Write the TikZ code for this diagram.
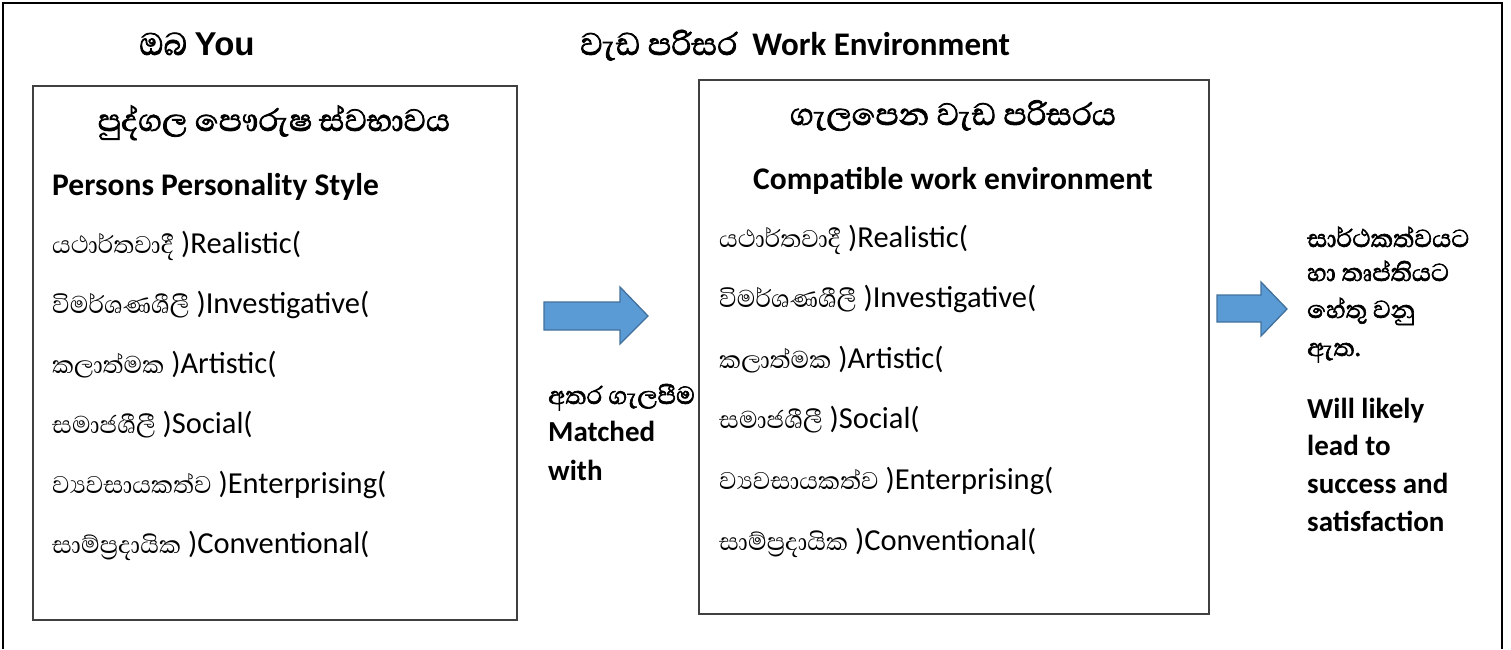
\documentclass[tikz,border=0pt]{standalone}
\usepackage{fontspec}
\setmainfont{Carlito}
\newfontfamily\sn[Script=Sinhala,AutoFakeBold=2]{Abhaya Libre}
\newfontfamily\arl{Liberation Sans}
\newcommand{\snr}{\sn\fontsize{31}{37}\selectfont}
\definecolor{boxline}{HTML}{404040}
\definecolor{arrfill}{HTML}{5B9BD5}
\definecolor{arrline}{HTML}{41719C}
\begin{document}
\begin{tikzpicture}[x=1pt,y=-1pt,
  frame/.style={draw=black,line width=2.8pt},
  panel/.style={draw=boxline,line width=1.6pt,anchor=north west,inner sep=0pt},
  blockarrow/.style={draw=arrline,fill=arrfill,line width=1.3pt,line join=miter},
  txt/.style={inner sep=0pt,anchor=base west,font=\fontsize{30.5}{36}\selectfont},
  btxt/.style={inner sep=0pt,anchor=base west,font=\fontsize{29}{35}\selectfont\bfseries},
  shead/.style={inner sep=0pt,anchor=base,font=\sn\fontsize{39.5}{46}\selectfont\bfseries},
  bhead/.style={inner sep=0pt,font=\fontsize{31.5}{37}\selectfont\bfseries},
  hdr/.style={inner sep=0pt,font=\fontsize{33}{40}\selectfont\bfseries},
  sb/.style={inner sep=0pt,anchor=base west,font=\sn\fontsize{31.5}{37}\selectfont\bfseries}]
\useasboundingbox (0,0) rectangle (1511,649);
\fill[white] (0,0) rectangle (1511,649);
% outer frame
\draw[frame] (3,649) -- (3,3) -- (1502,3) -- (1502,649);
% headers
\node[hdr,anchor=base] (you) at (197,55) {{\sn\fontsize{40}{46}\selectfont ඔබ} {\arl You}};
\node[hdr,anchor=base west] (work) at (580,55) {{\sn\fontsize{40}{46}\selectfont වැඩ පරිසර}\ \ Work Environment};
% panels
\node[panel,minimum width=484pt,minimum height=534pt] (lbox) at (32,85) {};
\node[panel,minimum width=510pt,minimum height=534pt] (rbox) at (698,79) {};
% left panel text
\node[shead] (lh) at (274,131) {පුද්ගල පෞරුෂ ස්වභාවය};
\node[bhead,anchor=base west] (lp) at (52,195) {Persons Personality Style};
\node[txt] (l1) at (52,253) {{\snr යථාර්තවාදී} )Realistic(};
\node[txt] (l2) at (52,313) {{\snr විමර්ශණශීලී} )Investigative(};
\node[txt] (l3) at (52,373) {{\snr කලාත්මක} )Artistic(};
\node[txt] (l4) at (52,433) {{\snr සමාජශීලී} )Social(};
\node[txt] (l5) at (52,493) {{\snr ව්‍යවසායකත්ව} )Enterprising(};
\node[txt] (l6) at (52,553) {{\snr සාම්ප්‍රදායික} )Conventional(};
% right panel text
\node[shead] (rh) at (953,125) {ගැලපෙන වැඩ පරිසරය};
\node[bhead,anchor=base] (rc) at (953,189) {Compatible work environment};
\node[txt] (r1) at (719,247) {{\snr යථාර්තවාදී} )Realistic(};
\node[txt] (r2) at (719,307) {{\snr විමර්ශණශීලී} )Investigative(};
\node[txt] (r3) at (719,368) {{\snr කලාත්මක} )Artistic(};
\node[txt] (r4) at (719,428) {{\snr සමාජශීලී} )Social(};
\node[txt] (r5) at (719,489) {{\snr ව්‍යවසායකත්ව} )Enterprising(};
\node[txt] (r6) at (719,550) {{\snr සාම්ප්‍රදායික} )Conventional(};
% arrows
\draw[blockarrow] (544,302) -- (620,302) -- (620,287) -- (648,316) -- (620,344) -- (620,330) -- (544,330) -- cycle;
\draw[blockarrow] (1217,295) -- (1261,295) -- (1261,282) -- (1287,309) -- (1261,336) -- (1261,322) -- (1217,322) -- cycle;
% middle text
\node[sb] (m1) at (548,404) {අතර ගැලපීම};
\node[btxt] (m2) at (548,441) {Matched};
\node[btxt] (m3) at (548,480) {with};
% right text
\node[sb] (e1) at (1307,247) {සාර්ථකත්වයට};
\node[sb] (e2) at (1307,281) {හා තෘප්තියට};
\node[sb] (e3) at (1307,318) {හේතු වනු};
\node[sb] (e4) at (1307,356) {ඇත.};
\node[btxt] (e5) at (1307,418) {Will likely};
\node[btxt] (e6) at (1307,455) {lead to};
\node[btxt] (e7) at (1307,493) {success and};
\node[btxt] (e8) at (1307,531) {satisfaction};
\end{tikzpicture}
\end{document}
